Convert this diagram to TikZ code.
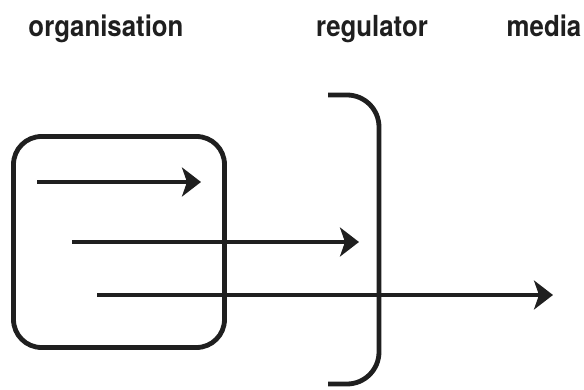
\documentclass[tikz,border=0pt]{standalone}
\usepackage{fontspec}
\newfontfamily\labfont{TeX Gyre Heros}[FakeStretch=0.89]
\usetikzlibrary{arrows.meta}
\begin{document}
\begin{tikzpicture}[x=1pt,y=-1pt,
  lab/.style={font=\labfont\bfseries\fontsize{29}{32}\selectfont, text=black!88, anchor=base, inner sep=0pt},
  flow/.style={line width=4.8pt, draw=black!88, -{Stealth[length=19pt,width=29pt,inset=5pt]}},
  orgbox/.style={draw=black!88, line width=4.8pt, rounded corners=28pt, minimum width=211pt, minimum height=211pt, inner sep=0pt},
  bracket/.style={draw=black!88, line width=4.8pt, rounded corners=32pt}]
\useasboundingbox (0,0) rectangle (584,390);
\node[lab] (torg) at (106,37) {organisation};
\node[lab] (treg) at (372,37) {regulator};
\node[lab] (tmed) at (544,37) {media};
\node[orgbox] (box) at (119,242) {};
\draw[bracket] (328,95) -- (379,95) -- (379,384) -- (328,384);
\coordinate (a1s) at (37,182);  \coordinate (a1e) at (201,182);
\coordinate (a2s) at (72,242);  \coordinate (a2e) at (359,242);
\coordinate (a3s) at (97,295);  \coordinate (a3e) at (553,295);
\draw[flow] (a1s) -- (a1e);
\draw[flow] (a2s) -- (a2e);
\draw[flow] (a3s) -- (a3e);
\end{tikzpicture}
\end{document}
